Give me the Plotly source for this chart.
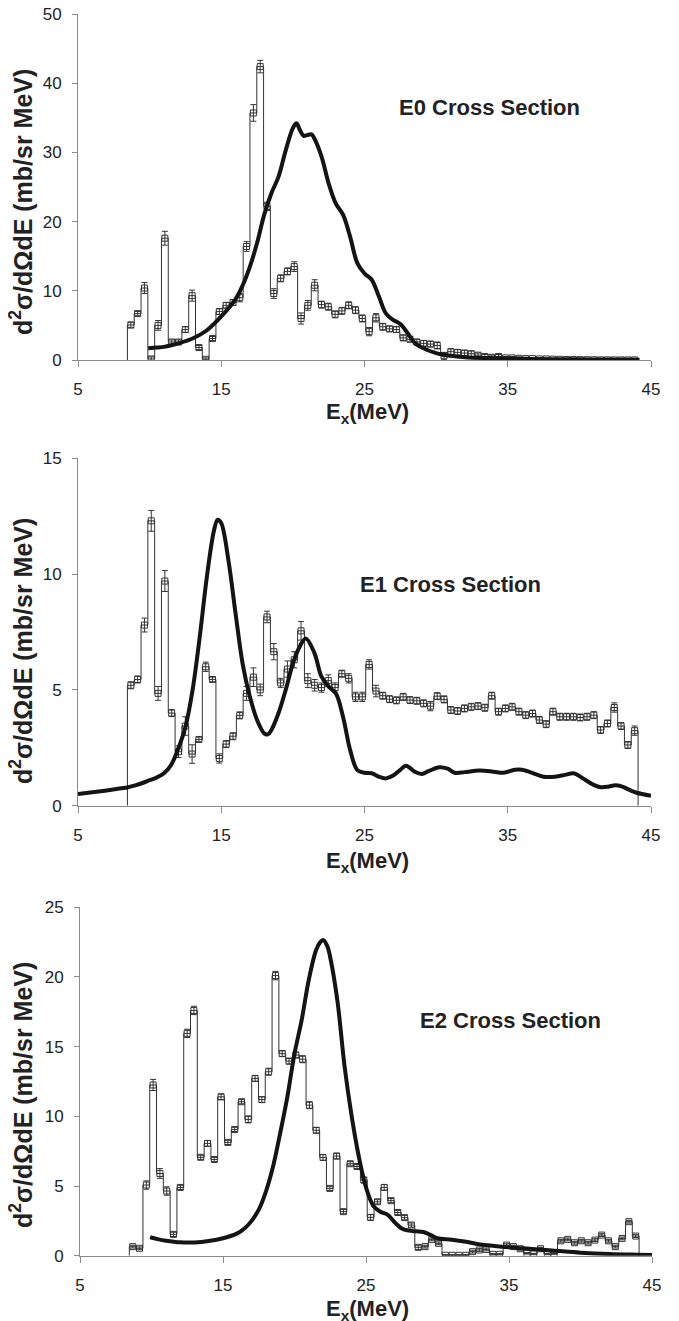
import numpy as np
import plotly.graph_objects as go

# ---------------- data ----------------
BIN_LO = 8.45        # MeV, lower edge of first bin
BIN_WIDTH = 0.4753   # MeV

e0_vals = [5.06, 6.7, 10.4, 0.15, 5.0, 17.6, 2.6, 2.6, 4.4, 9.3,
           1.8, 0.1, 3.1, 7.0, 7.9, 8.3, 9.0, 16.4, 35.7, 42.4,
           22.2, 9.6, 11.8, 12.8, 13.5, 6.0, 7.9, 10.8, 8.0, 7.7,
           6.6, 7.1, 7.9, 7.2, 6.0, 4.1, 6.1, 4.8, 4.5, 4.4,
           3.2, 3.0, 2.6, 2.4, 2.3, 2.1, 0.6, 1.2, 1.1, 1.0,
           0.9, 0.7, 0.5, 0.4, 0.5, 0.3, 0.3, 0.25, 0.2, 0.2,
           0.15, 0.15, 0.12, 0.1, 0.08, 0.06, 0.05, 0.04, 0.03, 0.02,
           0.02, 0.01, 0.01, 0.01, 0.01]
e0_errs = [0.4, 0.3, 0.8, 0.3, 0.7, 1.0, 0.3, 0.3, 0.4, 0.8,
           0.3, 0.2, 0.3, 0.4, 0.4, 0.4, 0.6, 0.7, 1.2, 0.9,
           0.6, 0.7, 0.5, 0.5, 0.7, 0.8, 0.7, 0.8, 0.5, 0.5,
           0.5, 0.5, 0.5, 0.5, 0.5, 0.6, 0.6, 0.5, 0.4, 0.4,
           0.4, 0.4, 0.4, 0.4, 0.4, 0.5, 0.5, 0.4, 0.4, 0.4,
           0.4, 0.3, 0.3, 0.3, 0.3, 0.2, 0.2, 0.2, 0.2, 0.1,
           0.1, 0.1, 0.1, 0.1, 0.1, 0.1, 0.1, 0.1, 0.1, 0.1,
           0.1, 0.1, 0.1, 0.1, 0.1]
e0_curve_x = [9.9, 10.5, 11, 12, 13, 14, 15, 16, 16.5, 17, 17.5, 18, 18.5, 19,
              19.5, 20, 20.25, 20.5, 20.75, 21, 21.3, 21.5, 22, 22.5, 23, 23.5,
              24, 24.5, 25, 25.5, 26, 26.5, 27, 27.5, 28, 28.5, 29, 30, 31, 32,
              34, 36, 38, 40, 42, 44.2]
e0_curve_y = [1.7, 1.8, 1.9, 2.4, 3.1, 4.3, 6.3, 8.8, 10.8, 13.5, 16.9, 21.0,
              24.1, 26.5, 30.3, 33.5, 34.2, 33.2, 32.4, 32.5, 32.6, 32.0, 29.4,
              25.5, 22.6, 21.0, 17.8, 14.0, 12.5, 11.6, 9.2, 6.7, 5.8, 5.2, 3.9,
              2.5, 1.8, 1.0, 0.6, 0.4, 0.25, 0.15, 0.12, 0.1, 0.07, 0.05]

e1_vals = [5.2, 5.45, 7.8, 12.3, 4.85, 9.7, 4.0, 2.33, 3.44, 2.23,
           2.86, 6.0, 5.45, 2.04, 2.66, 3.0, 3.9, 4.85, 5.55, 5.0,
           8.15, 6.65, 5.3, 5.9, 6.3, 7.55, 5.4, 5.2, 5.1, 5.4,
           5.1, 5.7, 5.5, 4.7, 4.7, 6.1, 4.95, 4.75, 4.6, 4.55,
           4.7, 4.56, 4.53, 4.42, 4.3, 4.73, 4.59, 4.13, 4.09, 4.2,
           4.27, 4.3, 4.23, 4.75, 4.06, 4.2, 4.27, 4.06, 3.91, 3.98,
           3.7, 3.52, 4.06, 3.84, 3.84, 3.84, 3.81, 3.84, 3.91, 3.27,
           3.55, 4.24, 3.44, 2.62, 3.24]
e1_errs = [0.15, 0.15, 0.3, 0.45, 0.3, 0.45, 0.15, 0.25, 0.4, 0.4,
           0.1, 0.2, 0.1, 0.2, 0.15, 0.15, 0.15, 0.3, 0.4, 0.25,
           0.25, 0.35, 0.2, 0.35, 0.35, 0.4, 0.3, 0.25, 0.2, 0.25,
           0.2, 0.15, 0.2, 0.2, 0.2, 0.2, 0.25, 0.15, 0.15, 0.15,
           0.15, 0.15, 0.15, 0.15, 0.2, 0.15, 0.15, 0.15, 0.15, 0.15,
           0.15, 0.15, 0.15, 0.15, 0.15, 0.15, 0.15, 0.15, 0.15, 0.15,
           0.15, 0.15, 0.15, 0.15, 0.15, 0.15, 0.15, 0.15, 0.15, 0.15,
           0.15, 0.2, 0.15, 0.15, 0.2]
e1_curve_x = [5, 6, 7, 8, 8.5, 9, 9.5, 10, 10.5, 11, 11.5, 12, 12.5, 13, 13.5,
              14, 14.5, 14.75, 15, 15.5, 16, 16.5, 17, 17.5, 18, 18.25, 18.5,
              19, 19.5, 20, 20.5, 20.9, 21.5, 22, 22.5, 23, 23.5, 24, 24.5, 25,
              25.5, 26, 26.5, 27, 27.5, 27.9, 28.5, 29, 29.5, 30.2, 30.8, 31.3,
              32, 33, 34, 34.7, 35.5, 36, 37, 37.5, 38.3, 39, 39.6, 40.2, 41,
              41.5, 42, 42.5, 43, 43.5, 44, 45]
e1_curve_y = [0.5, 0.58, 0.66, 0.75, 0.8, 0.88, 0.98, 1.1, 1.22, 1.4, 1.76,
              2.47, 3.4, 5.0, 7.3, 9.9, 11.9, 12.35, 12.2, 10.6, 8.3, 6.1, 4.7,
              3.7, 3.12, 3.08, 3.27, 4.0, 5.0, 6.14, 6.9, 7.22, 6.6, 5.57, 5.14,
              4.85, 3.84, 2.4, 1.54, 1.42, 1.4, 1.25, 1.18, 1.3, 1.55, 1.73,
              1.47, 1.37, 1.5, 1.66, 1.6, 1.42, 1.45, 1.52, 1.47, 1.42, 1.55,
              1.55, 1.35, 1.25, 1.25, 1.33, 1.40, 1.2, 0.9, 0.8, 0.82, 0.88,
              0.82, 0.68, 0.56, 0.43]

e2_vals = [0.65, 0.53, 5.07, 12.25, 5.9, 4.64, 1.53, 4.9, 15.95, 17.6,
           7.06, 8.06, 6.9, 11.4, 8.13, 9.06, 11.05, 9.78, 12.72, 11.2,
           13.2, 20.1, 14.5, 13.96, 14.4, 14.1, 10.8, 9.0, 7.05, 4.83,
           7.15, 3.16, 6.6, 6.4, 5.43, 2.75, 3.87, 4.9, 3.95, 3.1,
           2.73, 2.2, 0.6, 0.65, 1.17, 0.89, 0.03, 0.03, 0.03, 0.03,
           0.29, 0.41, 0.45, 0.1, 0.1, 0.76, 0.65, 0.5, 0.17, 0.12,
           0.5, 0.12, 0.15, 1.07, 1.17, 0.93, 1.07, 0.93, 1.12, 1.48,
           1.07, 0.65, 1.24, 2.44, 1.41]
e2_errs = [0.1, 0.1, 0.3, 0.4, 0.35, 0.3, 0.15, 0.15, 0.3, 0.3,
           0.15, 0.2, 0.15, 0.2, 0.15, 0.15, 0.15, 0.25, 0.2, 0.2,
           0.25, 0.3, 0.2, 0.2, 0.2, 0.25, 0.25, 0.2, 0.2, 0.15,
           0.2, 0.15, 0.15, 0.15, 0.2, 0.2, 0.15, 0.2, 0.15, 0.15,
           0.15, 0.15, 0.15, 0.1, 0.1, 0.1, 0.05, 0.05, 0.05, 0.05,
           0.1, 0.1, 0.1, 0.05, 0.05, 0.1, 0.1, 0.1, 0.05, 0.05,
           0.1, 0.05, 0.05, 0.1, 0.1, 0.1, 0.1, 0.1, 0.1, 0.1,
           0.1, 0.1, 0.1, 0.1, 0.1]
e2_curve_x = [9.9, 10.5, 11, 12, 13, 14, 15, 16, 16.5, 17, 17.5, 18, 18.5, 19,
              19.5, 20, 20.5, 21, 21.5, 21.8, 22, 22.3, 22.5, 23, 23.5, 24,
              24.5, 25, 25.5, 26, 26.5, 27, 27.5, 28, 28.5, 29, 29.5, 30, 31,
              32, 33, 34, 35, 36, 38, 40, 42, 44, 45]
e2_curve_y = [1.32, 1.17, 1.08, 0.96, 0.95, 1.05, 1.25, 1.6, 1.95, 2.5, 3.3,
              4.6, 6.4, 8.8, 11.4, 14.5, 16.9, 19.8, 21.9, 22.5, 22.65, 22.2,
              21.4, 18.3, 13.6, 10.0, 7.1, 4.9, 3.6, 3.15, 2.95, 2.4, 1.95,
              1.8, 1.75, 1.7, 1.5, 1.25, 1.15, 1.0, 0.8, 0.7, 0.6, 0.53, 0.38,
              0.22, 0.12, 0.07, 0.05]

panel_titles = ["E0 Cross Section", "E1 Cross Section", "E2 Cross Section"]
x_ticks = [5, 15, 25, 35, 45]
y_ranges = [(0, 50, 10), (0, 15, 5), (0, 25, 5)]

# ---------------- layout geometry (page pixels) ----------------
OFF = 8                      # default page body margin in the browser
W, H = 679 - OFF, 1321 - OFF
plot_x_px = [(78, 651), (78, 651), (80, 652)]
plot_y_px = [(14, 360), (458.3, 805.7), (907.3, 1255.7)]
label_pos = [(33.75, 36.5), (31.0, 9.53), (35.07, 16.9)]
ytitle_xy_px = [(21, 202), (21, 651), (21, 1095)]
xtitle_xy_px = [(367, 413), (367, 862), (367, 1310)]


def px(v):
    return v - OFF


FONT = "Liberation Sans, Arial, Helvetica, sans-serif"
AXCOL = "#8a8a8a"
TXT = "#222222"

panels = [
    (e0_vals, e0_errs, e0_curve_x, e0_curve_y),
    (e1_vals, e1_errs, e1_curve_x, e1_curve_y),
    (e2_vals, e2_errs, e2_curve_x, e2_curve_y),
]

fig = go.Figure()
annotations = []
layout_axes = {}

for i, (vals, errs, cx, cy) in enumerate(panels):
    n = len(vals)
    edges = BIN_LO + BIN_WIDTH * np.arange(n + 1)
    centers = 0.5 * (edges[:-1] + edges[1:])
    xs = [edges[0]] + list(edges[:-1]) + [edges[-1]]
    ys = [0] + list(vals) + [0]
    xa = "x" if i == 0 else f"x{i+1}"
    ya = "y" if i == 0 else f"y{i+1}"

    fig.add_trace(go.Scatter(x=xs, y=ys, mode="lines", line_shape="hv",
                             line=dict(color="#333333", width=1),
                             xaxis=xa, yaxis=ya, showlegend=False,
                             hoverinfo="skip"))
    fig.add_trace(go.Scatter(x=centers, y=vals, mode="markers",
                             marker=dict(symbol="square-open", size=6,
                                         color="#333333",
                                         line=dict(width=1, color="#333333")),
                             error_y=dict(type="data", array=errs, visible=True,
                                          color="#333333", thickness=1, width=3),
                             xaxis=xa, yaxis=ya, showlegend=False))
    fig.add_trace(go.Scatter(x=cx, y=cy, mode="lines", line_shape="spline",
                             line=dict(color="#141414", width=4),
                             xaxis=xa, yaxis=ya, showlegend=False))

    x0p, x1p = px(plot_x_px[i][0]), px(plot_x_px[i][1])
    ytop, ybot = px(plot_y_px[i][0]), px(plot_y_px[i][1])
    ymin, ymax, dy = y_ranges[i]
    key = "" if i == 0 else str(i + 1)
    layout_axes["xaxis" + key] = dict(
        domain=[x0p / W, x1p / W], anchor=ya, range=[5, 45],
        tickvals=x_ticks, showline=True, linecolor=AXCOL, linewidth=1,
        ticks="outside", ticklen=6, tickcolor=AXCOL, tickwidth=1,
        showgrid=False, zeroline=False, automargin=False,
        ticklabelstandoff=8, ticklabeloverflow="allow",
        tickfont=dict(family=FONT, size=17, color=TXT))
    layout_axes["yaxis" + key] = dict(
        domain=[1 - ybot / H, 1 - ytop / H], anchor=xa, range=[ymin, ymax],
        tickvals=list(range(ymin, ymax + 1, dy)), showline=True,
        linecolor=AXCOL, linewidth=1, ticks="outside", ticklen=5,
        tickcolor=AXCOL, tickwidth=1, showgrid=False, zeroline=False,
        automargin=False, ticklabelstandoff=7, ticklabeloverflow="allow",
        tickfont=dict(family=FONT, size=17, color=TXT))

    lx, ly = label_pos[i]
    annotations.append(dict(x=lx, y=ly, xref=xa, yref=ya, showarrow=False,
                            xanchor="center", yanchor="middle",
                            text=f"<b>{panel_titles[i]}</b>",
                            font=dict(family=FONT, size=22, color=TXT)))
    tx, ty = ytitle_xy_px[i]
    annotations.append(dict(x=px(tx) / W, y=1 - px(ty) / H, xref="paper",
                            yref="paper", showarrow=False, textangle=-90,
                            xanchor="center", yanchor="middle",
                            text="<b>d<sup>2</sup>σ/dΩdE (mb/sr MeV)</b>",
                            font=dict(family=FONT, size=25, color=TXT)))
    tx, ty = xtitle_xy_px[i]
    annotations.append(dict(x=px(tx) / W, y=1 - px(ty) / H, xref="paper",
                            yref="paper", showarrow=False,
                            xanchor="center", yanchor="middle",
                            text="<b>E<sub>x</sub>(MeV)</b>",
                            font=dict(family=FONT, size=22, color=TXT)))

fig.update_layout(width=W, height=H, margin=dict(l=0, r=0, t=0, b=0),
                  paper_bgcolor="white", plot_bgcolor="white",
                  annotations=annotations, **layout_axes)

fig.write_html("out.html")
